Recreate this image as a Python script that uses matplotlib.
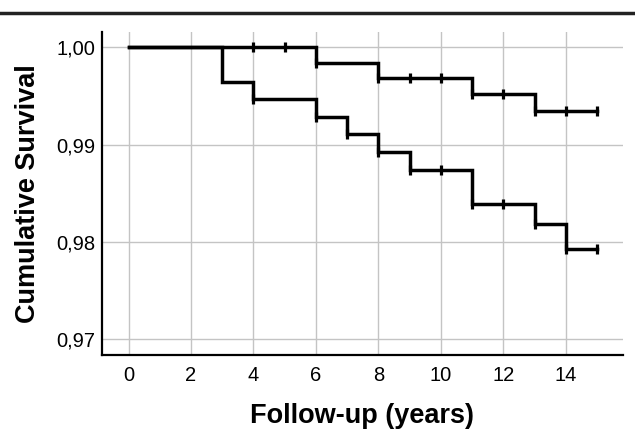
import matplotlib
matplotlib.use("Agg")
import matplotlib.pyplot as plt
from matplotlib.lines import Line2D
from matplotlib.ticker import FuncFormatter

plt.rcParams['font.family'] = ['Liberation Sans', 'DejaVu Sans']

# Group 1 (upper curve): step times and survival after each step
g1_times = [0, 6, 8, 11, 13, 15]
g1_surv = [1.0, 0.99842, 0.99681, 0.99517, 0.99348, 0.99348]
g1_cens_t = [4, 5, 6, 8, 9, 10, 11, 12, 13, 14, 15]
g1_cens_s = [1.0, 1.0, 0.99842, 0.99681, 0.99681, 0.99681, 0.99517, 0.99517, 0.99348, 0.99348, 0.99348]

# Group 2 (lower curve)
g2_times = [0, 3, 4, 6, 7, 8, 9, 11, 13, 14, 15]
g2_surv = [1.0, 0.99640, 0.99466, 0.99281, 0.99106, 0.98927, 0.98739, 0.98390, 0.98184, 0.97927, 0.97927]
g2_cens_t = [4, 6, 7, 8, 9, 10, 11, 12, 13, 14, 15]
g2_cens_s = [0.99466, 0.99281, 0.99106, 0.98927, 0.98739, 0.98739, 0.98390, 0.98390, 0.98184, 0.97927, 0.97927]

x_ticks = [0, 2, 4, 6, 8, 10, 12, 14]
y_ticks = [0.97, 0.98, 0.99, 1.00]

fig = plt.figure(figsize=(6.35, 4.3), dpi=100)
ax = fig.add_axes([102/635, 1 - 355/430, (623 - 102)/635, (355 - 32)/430])

for t, s in [(g1_times, g1_surv), (g2_times, g2_surv)]:
    ax.step(t, s, where='post', color='black', lw=2.5, zorder=3, solid_joinstyle='miter')
for t, s in [(g1_cens_t, g1_cens_s), (g2_cens_t, g2_cens_s)]:
    ax.plot(t, s, ls='none', marker='|', ms=7, mew=2.3, color='black', zorder=4)

ax.set_xlim(-0.85, 15.83)
ax.set_ylim(0.96839, 1.00157)
ax.set_xticks(x_ticks)
ax.set_yticks(y_ticks)
ax.yaxis.set_major_formatter(FuncFormatter(lambda v, p: f"{v:.2f}".replace('.', ',')))
ax.grid(True, color='#c4c4c4', lw=1.0, zorder=0)
ax.set_axisbelow(True)
for sp in ['top', 'right']:
    ax.spines[sp].set_visible(False)
for sp in ['left', 'bottom']:
    ax.spines[sp].set_linewidth(1.6)
    ax.spines[sp].set_color('black')
ax.tick_params(axis='both', length=0, labelsize=14.5, colors='black')
ax.tick_params(axis='x', pad=8)
ax.tick_params(axis='y', pad=5)

ax.set_xlabel('Follow-up (years)', fontsize=19.5, fontweight='bold', labelpad=13)
ax.set_ylabel('Cumulative Survival', fontsize=19.5, fontweight='bold', labelpad=11)

fig.add_artist(Line2D([0, 1], [1 - 13/430, 1 - 13/430], color='#222222', lw=2.5, transform=fig.transFigure))

fig.savefig('out.png', dpi=100)
